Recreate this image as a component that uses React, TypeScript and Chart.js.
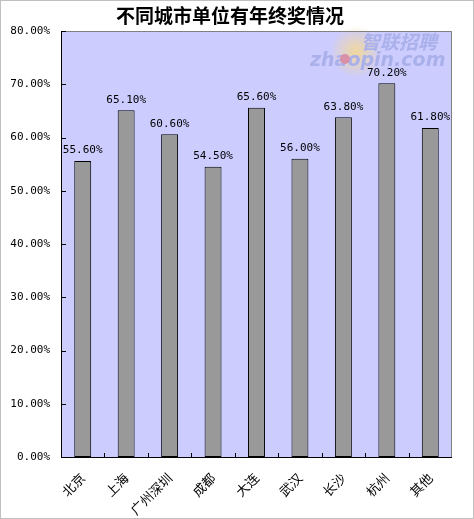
import React, { useEffect, useRef } from "react";
import { Chart, registerables } from "chart.js";

Chart.register(...registerables);

const categories = ["北京", "上海", "广州深圳", "成都", "大连", "武汉", "长沙", "杭州", "其他"];
const values = [55.6, 65.1, 60.6, 54.5, 65.6, 56.0, 63.8, 70.2, 61.8];
const yMin = 0;
const yMax = 80;
const yStep = 10;
const title = "不同城市单位有年终奖情况";
const watermarkCn = "智联招聘";
const watermarkEn = "zhaopin.com";

const MONO = "'DejaVu Sans Mono', 'Liberation Mono', monospace";
const CJK = "'Noto Sans CJK SC', sans-serif";

const framePlugin = {
  id: "frame",
  beforeDraw(chart: any) {
    const { ctx, chartArea: a, width, height } = chart;
    ctx.save();
    ctx.fillStyle = "#ffffff";
    ctx.fillRect(0, 0, width, height);
    ctx.strokeStyle = "#c0c0c0";
    ctx.lineWidth = 1;
    ctx.strokeRect(0.5, 0.5, width - 1, height - 1);
    ctx.fillStyle = "#ccccff";
    ctx.fillRect(a.left, a.top, a.right - a.left, a.bottom - a.top);
    // watermark
    const g = ctx.createRadialGradient(356, 52, 2, 356, 52, 26);
    g.addColorStop(0, "rgba(240,215,160,0.95)");
    g.addColorStop(1, "rgba(240,215,160,0.0)");
    ctx.fillStyle = g;
    ctx.beginPath();
    ctx.arc(356, 52, 26, 0, Math.PI * 2);
    ctx.fill();
    ctx.fillStyle = "#a9b0ea";
    ctx.textBaseline = "alphabetic";
    ctx.textAlign = "left";
    ctx.font = `italic bold 19px ${CJK}`;
    ctx.fillText(watermarkCn, 361, 49);
    ctx.font = `italic bold 19px 'DejaVu Sans', sans-serif`;
    ctx.fillText(watermarkEn, 310, 66);
    ctx.fillStyle = "#d890a8";
    ctx.beginPath();
    ctx.arc(345, 59, 5, 0, Math.PI * 2);
    ctx.fill();
    ctx.restore();
  },
  afterDraw(chart: any) {
    const { ctx, chartArea: a } = chart;
    const xs = chart.scales.x;
    const ys = chart.scales.y;
    ctx.save();
    ctx.lineWidth = 1;
    ctx.strokeStyle = "#808080";
    ctx.beginPath();
    ctx.moveTo(a.left, a.top + 0.5);
    ctx.lineTo(a.right - 0.5, a.top + 0.5);
    ctx.lineTo(a.right - 0.5, a.bottom);
    ctx.stroke();
    ctx.strokeStyle = "#000000";
    ctx.beginPath();
    ctx.moveTo(a.left + 0.5, a.top);
    ctx.lineTo(a.left + 0.5, a.bottom + 0.5);
    ctx.lineTo(a.right, a.bottom + 0.5);
    ctx.stroke();
    // inward ticks
    ctx.beginPath();
    for (let v = yMin; v <= yMax; v += yStep) {
      const y = Math.round(ys.getPixelForValue(v)) + 0.5;
      ctx.moveTo(a.left, y);
      ctx.lineTo(a.left + 5, y);
    }
    for (let i = 1; i < categories.length; i++) {
      const x = Math.round(xs.getPixelForValue(i - 0.5)) + 0.5;
      ctx.moveTo(x, a.bottom);
      ctx.lineTo(x, a.bottom - 4);
    }
    ctx.stroke();
    // title
    ctx.fillStyle = "#000000";
    ctx.font = `bold 19px ${CJK}`;
    ctx.textAlign = "center";
    ctx.textBaseline = "middle";
    ctx.fillText(title, 230, 16);
    ctx.restore();
  },
  afterDatasetsDraw(chart: any) {
    const { ctx } = chart;
    const meta = chart.getDatasetMeta(0);
    ctx.save();
    ctx.fillStyle = "#000000";
    ctx.font = `11px ${MONO}`;
    ctx.textAlign = "center";
    ctx.textBaseline = "bottom";
    meta.data.forEach((bar: any, i: number) => {
      ctx.fillText(values[i].toFixed(2) + "%", bar.x, bar.y - 5);
    });
    ctx.restore();
  },
};

export default function App() {
  const ref = useRef<HTMLCanvasElement | null>(null);
  useEffect(() => {
    if (!ref.current) return;
    const chart = new Chart(ref.current, {
      type: "bar",
      data: {
        labels: categories,
        datasets: [
          {
            data: values,
            backgroundColor: "#999999",
            borderColor: "#000000",
            borderWidth: 1,
            borderSkipped: false,
            categoryPercentage: 1,
            barPercentage: 0.39,
          },
        ],
      },
      options: {
        responsive: false,
        animation: false,
        devicePixelRatio: 1,
        layout: { padding: { top: 31, right: 22, bottom: 0, left: 0 } },
        plugins: {
          legend: { display: false },
          title: { display: false },
          tooltip: { enabled: false },
        },
        scales: {
          x: {
            grid: { display: false, drawTicks: false },
            border: { display: false },
            ticks: {
              color: "#000000",
              font: { family: CJK, size: 13 },
              minRotation: 45,
              maxRotation: 45,
              padding: 13,
              autoSkip: false,
            },
            afterFit(scale: any) {
              scale.height = 62;
            },
          },
          y: {
            min: yMin,
            max: yMax,
            grid: { display: false, drawTicks: false },
            border: { display: false },
            ticks: {
              stepSize: yStep,
              color: "#000000",
              font: { family: MONO, size: 11 },
              padding: 11,
              callback: (v: any) => Number(v).toFixed(2) + "%",
            },
            afterFit(scale: any) {
              scale.width = 61;
            },
          },
        },
      },
      plugins: [framePlugin],
    });
    return () => chart.destroy();
  }, []);
  return (
    <div style={{ position: "fixed", left: 0, top: 0 }}>
      <canvas ref={ref} width={474} height={519} style={{ display: "block" }} />
    </div>
  );
}
